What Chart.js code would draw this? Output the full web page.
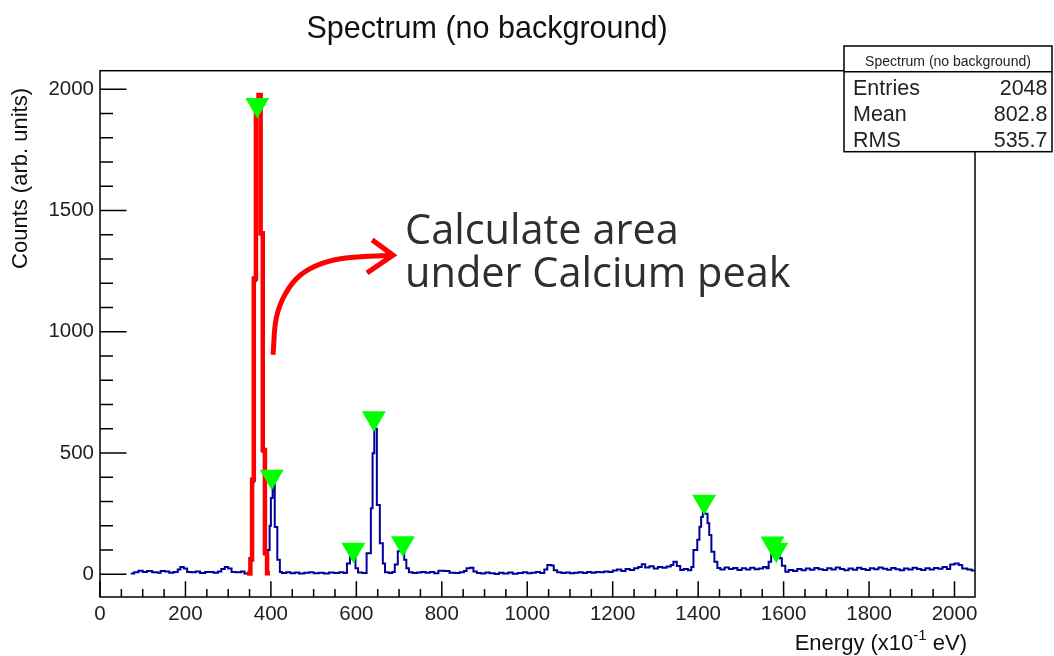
<!DOCTYPE html>
<html><head><meta charset="utf-8">
<script src="https://cdn.jsdelivr.net/npm/chart.js@4.4.0/dist/chart.umd.min.js"></script>
<style>html,body{margin:0;padding:0;background:#fff;}canvas{display:block;}</style>
</head><body>
<canvas id="c" width="1054" height="656"></canvas>
<script>
// ---- data ----
const binEdges = [72,80,90,100,110,122,135,142,152,162,
 172,182,188,196,204,214,224,234,246,256,
 266,276,284,292,300,308,318,330,338,346,
 352,356,360,365,371,376,381,386,390,397,
 400,404,409,415,421,426,436,446,456,466,
 478,490,500,512,524,536,548,560,570,578,
 585,592,598,604,614,624,634,638,642,648,
 655,662,667,676,684,690,697,704,712,717,
 723,732,742,752,762,772,782,792,806,818,
 830,842,852,858,866,874,882,892,902,912,
 924,934,944,956,966,978,990,1000,1010,1020,
 1030,1040,1047,1056,1062,1070,1080,1090,1100,1110,
 1120,1130,1140,1150,1160,1170,1180,1190,1200,1210,
 1220,1230,1240,1250,1260,1268,1276,1286,1296,1306,
 1316,1326,1336,1342,1350,1358,1366,1376,1384,1389,
 1398,1403,1407,1411,1416,1422,1426,1431,1438,1445,
 1452,1462,1472,1482,1492,1502,1512,1522,1532,1542,
 1552,1560,1565,1571,1580,1586,1591,1596,1604,1612,
 1622,1632,1642,1652,1662,1672,1682,1692,1702,1712,
 1722,1732,1742,1752,1762,1772,1782,1792,1802,1812,
 1822,1832,1842,1852,1862,1872,1882,1892,1902,1912,
 1922,1932,1942,1952,1962,1972,1982,1990,2000,2010,
 2018,2030,2040,2048];
const counts = [3,8,15,10,14,8,6,14,12,6,
 9,20,30,24,10,8,12,5,9,10,
 6,12,22,30,24,10,8,12,3,2,
 55,380,1210,1900,1976,1400,505,95,100,200,
 315,370,195,60,10,5,8,4,7,3,
 6,8,4,6,3,7,5,8,5,45,
 80,72,25,7,5,87,272,499,600,286,
 128,45,8,5,10,40,95,110,60,25,
 8,5,7,10,6,9,4,15,14,6,
 5,8,14,25,27,12,5,3,7,4,
 1,6,3,7,2,5,8,4,6,9,
 5,20,38,36,17,8,5,7,4,6,
 8,5,9,6,10,8,12,9,16,20,
 14,22,18,25,30,41,28,33,24,30,
 27,32,38,52,34,18,22,17,30,100,
 142,196,236,290,250,211,162,93,52,26,
 20,28,22,26,18,25,20,27,21,24,
 30,25,52,95,105,92,66,35,11,18,
 14,22,17,24,19,26,21,18,25,20,
 28,22,17,24,19,27,22,18,25,21,
 28,23,19,26,21,17,24,20,27,22,
 18,25,20,26,23,30,22,40,45,38,
 24,20,16,16];
const calciumEdges = [344,352,356,360,365,371,376,381,386,391,398];
const calciumCounts = [3,62,390,1220,1900,1976,1406,513,87,4,4];
const peakX = [368,402,593,641,709,1414,1574,1583];
const peakY = [1936,403,102,644,128,300,127,102];
const arrowX = [405,413,435,470,520,580,686];
const arrowY = [905,1060,1160,1235,1282,1305,1316];
const headX = [637,686,625];
const headY = [1379,1316,1243];
const xTicks = [0,200,400,600,800,1000,1200,1400,1600,1800,2000];
const yTicks = [0,500,1000,1500,2000];
const statsLabels = ['Entries','Mean','RMS'];
const statsValues = ['2048','802.8','535.7'];
const titleText = 'Spectrum (no background)';
const xTitle = ['Energy (x10','-1',' eV)'];
const yTitle = 'Counts (arb. units)';
const noteLines = ['Calculate area','under Calcium peak'];

const pts = (xs, ys) => xs.map((v,i)=>({x:v,y:ys[i]}));
const FONT = '"Liberation Sans", Arial, Helvetica, sans-serif';

const rootDecor = {
  id:'rootDecor',
  afterDraw(chart){
    const {ctx, chartArea:a, scales:{x,y}} = chart;
    ctx.save();
    // frame
    ctx.strokeStyle='#000'; ctx.lineWidth=1.5;
    ctx.strokeRect(a.left, a.top, a.right-a.left, a.bottom-a.top);
    // inward ticks
    ctx.beginPath();
    for (let v=0; v<=x.max; v+=50){
      const px=x.getPixelForValue(v); const len=(v%200===0)?15.8:7.9;
      ctx.moveTo(px,a.bottom); ctx.lineTo(px,a.bottom-len);
    }
    for (let v=0; v<=y.max; v+=100){
      const py=y.getPixelForValue(v); const len=(v%500===0)?26.5:13;
      ctx.moveTo(a.left,py); ctx.lineTo(a.left+len,py);
    }
    ctx.stroke();
    // title
    ctx.fillStyle='#111';
    ctx.font='30.5px '+FONT; ctx.textAlign='center'; ctx.textBaseline='alphabetic';
    ctx.fillText(titleText, 487, 38);
    // y title
    ctx.save();
    ctx.translate(21, 88); ctx.rotate(-Math.PI/2);
    ctx.font='22px '+FONT; ctx.textAlign='right'; ctx.textBaseline='middle';
    ctx.fillText(yTitle, 0, 0);
    ctx.restore();
    // x title with superscript
    ctx.font='22px '+FONT; const w0=ctx.measureText(xTitle[0]).width, w2=ctx.measureText(xTitle[2]).width;
    ctx.font='15px '+FONT; const w1=ctx.measureText(xTitle[1]).width;
    let sx = 967 - (w0+w1+w2);
    ctx.textAlign='left'; ctx.textBaseline='alphabetic';
    ctx.font='22px '+FONT; ctx.fillText(xTitle[0], sx, 650); sx+=w0;
    ctx.font='15px '+FONT; ctx.fillText(xTitle[1], sx, 640); sx+=w1;
    ctx.font='22px '+FONT; ctx.fillText(xTitle[2], sx, 650);
    // stats box
    ctx.fillStyle='#fff'; ctx.fillRect(844,46,208,105.7);
    ctx.strokeStyle='#000'; ctx.lineWidth=1.5; ctx.strokeRect(844,46,208,105.7);
    ctx.beginPath(); ctx.moveTo(844,71.7); ctx.lineTo(1052,71.7); ctx.stroke();
    ctx.fillStyle='#222';
    ctx.font='14px '+FONT; ctx.textAlign='center'; ctx.fillText(titleText, 948, 66);
    ctx.font='21.5px '+FONT;
    const rowsY=[95,121,146.5];
    statsLabels.forEach((t,i)=>{ ctx.textAlign='left'; ctx.fillText(t,853,rowsY[i]); ctx.textAlign='right'; ctx.fillText(statsValues[i],1047.5,rowsY[i]); });
    // annotation text
    ctx.fillStyle='#2e2e2e'; ctx.textAlign='left';
    ctx.font='41.5px "Open Sans", "Noto Sans", sans-serif';
    ctx.fillText(noteLines[0], 405, 244);
    ctx.fillText(noteLines[1], 405, 287);
    ctx.restore();
  }
};

new Chart(document.getElementById('c'), {
  type:'scatter',
  data:{datasets:[
    {label:'peaks', data:pts(peakX,peakY), pointStyle:'triangle', rotation:180, pointRadius:13.8,
     backgroundColor:'#00ff00', borderColor:'#00ff00', borderWidth:0, showLine:false, order:0},
    {label:'arrowhead', data:pts(headX,headY), showLine:true, tension:0, borderColor:'#ff0000', borderWidth:5,
     borderJoinStyle:'miter', pointRadius:0, order:1},
    {label:'arrow', data:pts(arrowX,arrowY), showLine:true, tension:0.4, borderColor:'#ff0000',
     borderWidth:5, pointRadius:0, order:1},
    {label:'calcium', data:pts(calciumEdges,calciumCounts), showLine:true, stepped:true, borderColor:'#ff0000',
     borderWidth:4.5, pointRadius:0, order:2},
    {label:'spectrum', data:pts(binEdges,counts), showLine:true, stepped:true, borderColor:'#00009a',
     borderWidth:2, pointRadius:0, order:3}
  ]},
  options:{
    responsive:false, animation:false, devicePixelRatio:1,
    layout:{autoPadding:false, padding:{left:0,right:79,top:70.7,bottom:0}},
    plugins:{legend:{display:false}, tooltip:{enabled:false}, title:{display:false}},
    scales:{
      x:{type:'linear', min:0, max:2048,
        afterBuildTicks:s=>{s.ticks=xTicks.map(v=>({value:v}));},
        afterFit:s=>{s.height=59;},
        grid:{display:false, drawTicks:false, tickLength:0}, border:{display:false},
        ticks:{padding:5, color:'#222', font:{family:FONT,size:20.5}, maxRotation:0, autoSkip:false, callback:v=>String(v)}},
      y:{type:'linear', min:-93.6, max:2076.7,
        afterBuildTicks:s=>{s.ticks=yTicks.map(v=>({value:v}));},
        afterFit:s=>{s.width=100;},
        grid:{display:false, drawTicks:false, tickLength:0}, border:{display:false},
        ticks:{padding:6, color:'#222', font:{family:FONT,size:20.5}, autoSkip:false, callback:v=>String(v)}}
    }
  },
  plugins:[rootDecor]
});
</script>
</body></html>
